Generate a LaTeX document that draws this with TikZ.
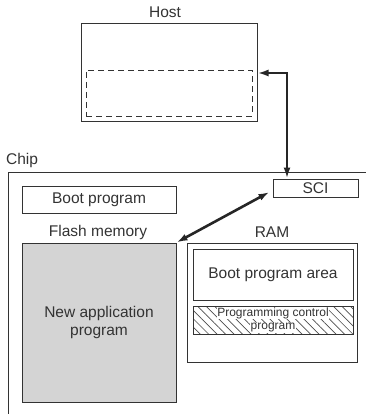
\documentclass[tikz,border=0pt]{standalone}
\usepackage{fontspec}
\setmainfont{Liberation Sans}
\usetikzlibrary{arrows.meta, patterns.meta}
\newcommand{\whitebg}[1]{{\setlength{\fboxsep}{0.5pt}\colorbox{white}{#1}}}

\begin{document}
\begin{tikzpicture}[
    x=1pt, y=-1pt,
    block/.style={rectangle, draw=black!80, line width=1pt, align=center, font=\fontsize{15.5}{18}\selectfont, text=black!80, inner sep=0pt},
    label/.style={font=\fontsize{15.5}{18}\selectfont, text=black!80, inner sep=0pt},
    bus/.style={{Latex[length=11pt,width=7pt]}-{Latex[length=11pt,width=7pt]}, line width=2.6pt, draw=black!85}
]
\useasboundingbox (0,0) rectangle (366,414);

% host side
\node[label] (hostlbl) at (165,12) {Host};
\node[block, minimum width=176pt, minimum height=98pt] (host) at (169,73) {};
\node[block, dash pattern=on 6pt off 4pt, line width=0.8pt, minimum width=166pt, minimum height=46pt] (hostbuf) at (169,93) {};

% chip frame
\node[label] (chiplbl) at (22,160) {Chip};
\draw[black!80, line width=1pt] (8,414) -- (8,172) -- (366,172);

\node[block, minimum width=85pt, minimum height=18pt] (sci) at (315.5,188) {SCI};
\node[block, minimum width=154pt, minimum height=27pt] (boot) at (99,199.5) {Boot program};

\node[label] (flashlbl) at (98,232) {Flash memory};
\node[block, fill=black!17, minimum width=154pt, minimum height=159pt] (flash) at (99,322.5) {New application\\program};

\node[label] (ramlbl) at (272,232) {RAM};
\node[block, minimum width=170pt, minimum height=119pt] (ram) at (272,302.5) {};
\node[block, minimum width=160pt, minimum height=51pt] (bootarea) at (273,274.5) {Boot program area};
\node[block, pattern={Lines[angle=-45, distance=6pt, line width=0.7pt]}, pattern color=black!70,
      minimum width=160pt, minimum height=28pt, font=\fontsize{12}{13.5}\selectfont] (progctl) at (273,320)
      {\whitebg{Programming control}\\\whitebg{program}};

% connections
\draw[bus] (host.east) -| ([xshift=-28.5pt]sci.north);
\draw[bus] (flash.north east) -- ([xshift=-3pt,yshift=-4pt]sci.west);

\end{tikzpicture}
\end{document}
